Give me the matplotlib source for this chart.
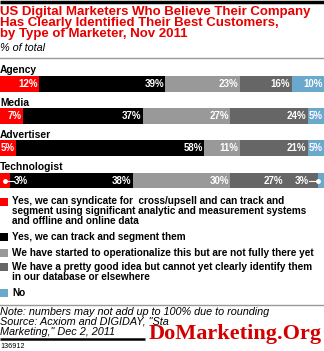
import matplotlib
matplotlib.use("Agg")
import matplotlib.pyplot as plt
import numpy as np

plt.rcParams['font.family'] = ['Liberation Sans', 'DejaVu Sans']

categories = ["Agency", "Media", "Advertiser", "Technologist"]
series_names = [
    "Yes, we can syndicate for  cross/upsell and can track and\nsegment using significant analytic and measurement systems\nand offline and online data",
    "Yes, we can track and segment them",
    "We have started to operationalize this but are not fully there yet",
    "We have a pretty good idea but cannot yet clearly identify them\nin our database or elsewhere",
    "No",
]
values = [
    [12, 39, 23, 16, 10],
    [7, 37, 27, 24, 5],
    [5, 58, 11, 21, 5],
    [3, 38, 30, 27, 3],
]
colors = ["#ff0000", "#000000", "#999999", "#666666", "#6aa8cc"]

title = ("US Digital Marketers Who Believe Their Company\n"
         "Has Clearly Identified Their Best Customers,\n"
         "by Type of Marketer, Nov 2011")
subtitle = "% of total"
# the rest of the source line is hidden under the watermark in the original
note_lines = ["Note: numbers may not add up to 100% due to rounding",
              "Source: Acxiom and DIGIDAY, \"Sta",
              "Marketing,\" Dec 2, 2011"]
chart_id = "136912"

W, H = 324, 351
fig = plt.figure(figsize=(W / 100, H / 100), dpi=100)

# pixel axes for text and rules
bg = fig.add_axes([0, 0, 1, 1])
bg.set_xlim(0, W)
bg.set_ylim(H, 0)
bg.axis("off")

# bar axes, x in percent
ax = fig.add_axes([0, 0, 1, 1])
ax.set_xlim(0, 100)
ax.set_ylim(H, 0)
ax.axis("off")

bg.plot([0, W], [1.5, 1.5], color="black", lw=2.5, solid_capstyle="butt")
bg.text(0, 5.5, title, color="#e60000", fontsize=9.5, fontweight="bold",
        va="top", ha="left", linespacing=0.92)
bg.text(0, 48, subtitle, fontsize=7.8, style="italic", va="center")
bg.plot([0, W], [58, 58], color="#999999", lw=1)

label_y = [70, 102.5, 134.5, 167]
bar_y = [84, 116, 148, 180.5]
bar_h = 15.5

for i, cat in enumerate(categories):
    bg.text(0, label_y[i], cat, fontsize=7.4, fontweight="bold", va="center")
    vals = values[i]
    lefts = np.concatenate([[0], np.cumsum(vals)[:-1]])
    ax.barh(bar_y[i], vals, left=lefts, height=bar_h, color=colors, lw=0)
    for j, v in enumerate(vals):
        right = lefts[j] + v
        txt = f"{v}%"
        kw = dict(color="white", fontsize=7, fontweight="bold", va="center")
        if cat == "Technologist" and j == 0:
            mid = lefts[j] + v / 2
            ax.plot([mid, right + 1.2], [bar_y[i], bar_y[i]], color="white", lw=0.8)
            ax.plot([mid], [bar_y[i]], "o", color="white", ms=2.5)
            ax.text(right + 1.3, bar_y[i], txt, ha="left", **kw)
        elif cat == "Technologist" and j == 3:
            ax.text(right - 10.5, bar_y[i], txt, ha="right", **kw)
        elif cat == "Technologist" and j == 4:
            mid = lefts[j]
            ax.plot([mid - 2.6, mid], [bar_y[i], bar_y[i]], color="white", lw=0.8)
            ax.plot([mid], [bar_y[i]], "o", color="white", ms=2.5)
            ax.text(mid - 2.7, bar_y[i], txt, ha="right", **kw)
        else:
            ax.text(min(right, 100) - 0.4, bar_y[i], txt, ha="right", **kw)

# legend
leg_y = [201.5, 237, 253, 267, 293]
for j, name in enumerate(series_names):
    bg.add_patch(plt.Rectangle((0, leg_y[j] - 4), 8, 8, color=colors[j], lw=0))
    bg.text(12, leg_y[j] - 5.5, name, fontsize=7.2, fontweight="bold",
            va="top", ha="left", linespacing=1.0)

bg.plot([0, W], [305, 305], color="#999999", lw=1)
for k, line in enumerate(note_lines):
    bg.text(0, 312 + 10 * k, line, fontsize=7.8, style="italic",
            va="center", ha="left")
bg.plot([0, 145], [338.5, 338.5], color="black", lw=1.8, solid_capstyle="butt")
bg.text(0, 346, chart_id, fontsize=5.2, va="center", ha="left")

bg.text(149, 334, "DoMarketing.Org", family="Liberation Serif", fontsize=16,
        fontweight="bold", color="#d40000", va="center", ha="left")

fig.savefig("out.png", dpi=100)
